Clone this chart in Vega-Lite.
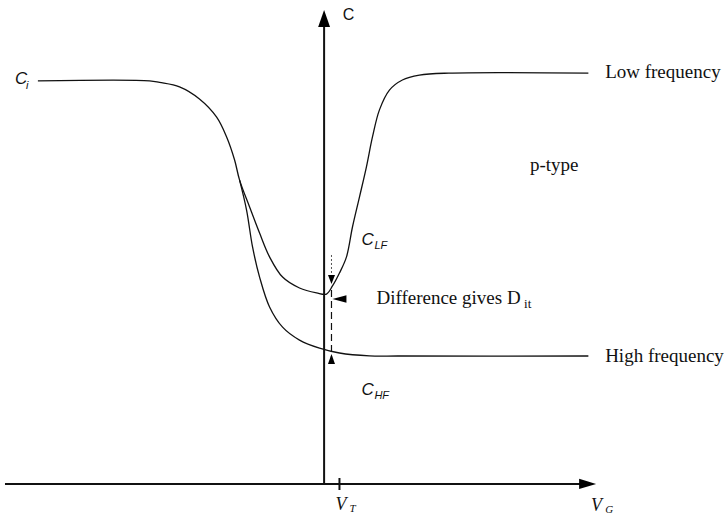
{
  "$schema": "https://vega.github.io/schema/vega-lite/v6.json",
  "width": 724,
  "height": 517,
  "autosize": {"type": "fit", "contains": "padding"},
  "padding": 0,
  "background": "white",
  "config": {"view": {"stroke": null}},
  "datasets": {
    "curves": [
      {"curve": "LF", "ord": 1, "V": -5.74, "C": 1.0},
      {"curve": "LF", "ord": 2, "V": -3.5, "C": 1.0},
      {"curve": "LF", "ord": 3, "V": -3.3, "C": 0.996},
      {"curve": "LF", "ord": 4, "V": -2.9, "C": 0.985},
      {"curve": "LF", "ord": 5, "V": -2.5, "C": 0.955},
      {"curve": "LF", "ord": 6, "V": -2.155, "C": 0.91},
      {"curve": "LF", "ord": 7, "V": -1.955, "C": 0.861},
      {"curve": "LF", "ord": 8, "V": -1.795, "C": 0.804},
      {"curve": "LF", "ord": 9, "V": -1.695, "C": 0.754},
      {"curve": "LF", "ord": 10, "V": -1.494, "C": 0.6875},
      {"curve": "LF", "ord": 11, "V": -1.294, "C": 0.623},
      {"curve": "LF", "ord": 12, "V": -1.094, "C": 0.564},
      {"curve": "LF", "ord": 13, "V": -0.833, "C": 0.514},
      {"curve": "LF", "ord": 14, "V": -0.493, "C": 0.487},
      {"curve": "LF", "ord": 15, "V": -0.152, "C": 0.475},
      {"curve": "LF", "ord": 16, "V": 0.048, "C": 0.472},
      {"curve": "LF", "ord": 17, "V": 0.168, "C": 0.492},
      {"curve": "LF", "ord": 18, "V": 0.308, "C": 0.524},
      {"curve": "LF", "ord": 19, "V": 0.449, "C": 0.564},
      {"curve": "LF", "ord": 20, "V": 0.569, "C": 0.638},
      {"curve": "LF", "ord": 21, "V": 0.709, "C": 0.712},
      {"curve": "LF", "ord": 22, "V": 0.849, "C": 0.787},
      {"curve": "LF", "ord": 23, "V": 0.97, "C": 0.861},
      {"curve": "LF", "ord": 24, "V": 1.11, "C": 0.928},
      {"curve": "LF", "ord": 25, "V": 1.31, "C": 0.977},
      {"curve": "LF", "ord": 26, "V": 1.57, "C": 1.002},
      {"curve": "LF", "ord": 27, "V": 1.911, "C": 1.014},
      {"curve": "LF", "ord": 28, "V": 2.5, "C": 1.019},
      {"curve": "LF", "ord": 29, "V": 5.3, "C": 1.019},
      {"curve": "HF", "ord": 1, "V": -1.695, "C": 0.754},
      {"curve": "HF", "ord": 2, "V": -1.555, "C": 0.68},
      {"curve": "HF", "ord": 3, "V": -1.435, "C": 0.5885},
      {"curve": "HF", "ord": 4, "V": -1.294, "C": 0.514},
      {"curve": "HF", "ord": 5, "V": -1.094, "C": 0.44},
      {"curve": "HF", "ord": 6, "V": -0.833, "C": 0.39},
      {"curve": "HF", "ord": 7, "V": -0.493, "C": 0.358},
      {"curve": "HF", "ord": 8, "V": -0.092, "C": 0.338},
      {"curve": "HF", "ord": 9, "V": 0.308, "C": 0.326},
      {"curve": "HF", "ord": 10, "V": 0.909, "C": 0.319},
      {"curve": "HF", "ord": 11, "V": 1.51, "C": 0.3186},
      {"curve": "HF", "ord": 12, "V": 5.3, "C": 0.3186}
    ],
    "axes": [
      {"name": "C axis", "V": 0, "C": 0.002, "V2": 0, "C2": 1.14},
      {"name": "VG axis", "V": -6.4, "C": 0.002, "V2": 5.2, "C2": 0.002},
      {"name": "VT tick", "V": 0.308, "C": 0.0166, "V2": 0.308, "C2": -0.0132}
    ],
    "dotted": [{"V": 0.148, "C": 0.5687, "V2": 0.148, "C2": 0.5018}],
    "dashed": [{"V": 0.148, "C": 0.482, "V2": 0.148, "C2": 0.3037}],
    "arrowUpAxis": [{"V": 0, "C": 1.154}],
    "arrowRightAxis": [{"V": 5.285, "C": 0.002}],
    "arrowDown": [{"V": 0.148, "C": 0.508}],
    "arrowUp": [{"V": 0.148, "C": 0.311}],
    "arrowLeft": [{"V": 0.308, "C": 0.4597}],
    "serifLeft": [
      {"label": "Low frequency", "V": 5.636, "C": 1.0217},
      {"label": "High frequency", "V": 5.636, "C": 0.3186},
      {"label": "Difference gives D", "V": 1.049, "C": 0.462}
    ],
    "serifCenter": [{"label": "p-type", "V": 4.614, "C": 0.7915}],
    "serifSub": [{"label": "it", "V": 4.01, "C": 0.4478}],
    "sansItalic": [
      {"label": "C", "V": -6.2, "C": 1.0044},
      {"label": "C", "V": 0.749, "C": 0.6058},
      {"label": "C", "V": 0.749, "C": 0.2344}
    ],
    "sansItalicSub": [
      {"label": "i", "V": -5.98, "C": 0.987},
      {"label": "LF", "V": 1.009, "C": 0.591},
      {"label": "HF", "V": 1.009, "C": 0.2196}
    ],
    "axisTitle": [{"label": "C", "V": 0.489, "C": 1.163}],
    "serifItalic": [
      {"label": "V", "V": 0.228, "C": -0.0503},
      {"label": "V", "V": 5.355, "C": -0.0528}
    ],
    "serifItalicSub": [
      {"label": "T", "V": 0.509, "C": -0.0602},
      {"label": "G", "V": 5.636, "C": -0.0627}
    ]
  },
  "encoding": {
    "x": {"field": "V", "type": "quantitative", "scale": {"domain": [-6.5, 8], "nice": false, "zero": false}, "axis": null},
    "y": {"field": "C", "type": "quantitative", "scale": {"domain": [-0.08, 1.2], "nice": false, "zero": false}, "axis": null}
  },
  "layer": [
    {
      "data": {"name": "curves"},
      "mark": {"type": "line", "interpolate": "catmull-rom", "color": "#111", "strokeWidth": 1.3},
      "encoding": {"detail": {"field": "curve"}, "order": {"field": "ord", "type": "quantitative"}}
    },
    {
      "data": {"name": "axes"},
      "mark": {"type": "rule", "color": "#111", "strokeWidth": 2},
      "encoding": {"x2": {"field": "V2"}, "y2": {"field": "C2"}}
    },
    {
      "data": {"name": "dotted"},
      "mark": {"type": "rule", "color": "#555", "strokeWidth": 1, "strokeDash": [2, 2]},
      "encoding": {"x2": {"field": "V2"}, "y2": {"field": "C2"}}
    },
    {
      "data": {"name": "dashed"},
      "mark": {"type": "rule", "color": "#111", "strokeWidth": 1.2, "strokeDash": [7, 4]},
      "encoding": {"x2": {"field": "V2"}, "y2": {"field": "C2"}}
    },
    {
      "data": {"name": "arrowUpAxis"},
      "mark": {"type": "point", "shape": "M0,-1L-0.7,1L0.7,1Z", "size": 289, "filled": true, "color": "#000", "opacity": 1}
    },
    {
      "data": {"name": "arrowRightAxis"},
      "mark": {"type": "point", "shape": "M1,0L-1,-0.6L-1,0.6Z", "size": 289, "filled": true, "color": "#000", "opacity": 1}
    },
    {
      "data": {"name": "arrowDown"},
      "mark": {"type": "point", "shape": "M0,1L-0.78,-1L0.78,-1Z", "size": 81, "filled": true, "color": "#000", "opacity": 1}
    },
    {
      "data": {"name": "arrowUp"},
      "mark": {"type": "point", "shape": "M0,-1L-0.7,1L0.7,1Z", "size": 100, "filled": true, "color": "#000", "opacity": 1}
    },
    {
      "data": {"name": "arrowLeft"},
      "mark": {"type": "point", "shape": "M-1,0L1,-0.55L1,0.55Z", "size": 196, "filled": true, "color": "#000", "opacity": 1}
    },
    {
      "data": {"name": "serifLeft"},
      "mark": {"type": "text", "align": "left", "baseline": "middle", "font": "Liberation Serif", "fontSize": 19, "color": "#111"},
      "encoding": {"text": {"field": "label"}}
    },
    {
      "data": {"name": "serifCenter"},
      "mark": {"type": "text", "align": "center", "baseline": "middle", "font": "Liberation Serif", "fontSize": 19, "color": "#111"},
      "encoding": {"text": {"field": "label"}}
    },
    {
      "data": {"name": "serifSub"},
      "mark": {"type": "text", "align": "left", "baseline": "middle", "font": "Liberation Serif", "fontSize": 13, "color": "#111"},
      "encoding": {"text": {"field": "label"}}
    },
    {
      "data": {"name": "sansItalic"},
      "mark": {"type": "text", "align": "left", "baseline": "middle", "font": "Liberation Sans", "fontStyle": "italic", "fontSize": 17, "color": "#111"},
      "encoding": {"text": {"field": "label"}}
    },
    {
      "data": {"name": "sansItalicSub"},
      "mark": {"type": "text", "align": "left", "baseline": "middle", "font": "Liberation Sans", "fontStyle": "italic", "fontSize": 11, "color": "#111"},
      "encoding": {"text": {"field": "label"}}
    },
    {
      "data": {"name": "axisTitle"},
      "mark": {"type": "text", "align": "center", "baseline": "middle", "font": "Liberation Sans", "fontSize": 16, "color": "#111"},
      "encoding": {"text": {"field": "label"}}
    },
    {
      "data": {"name": "serifItalic"},
      "mark": {"type": "text", "align": "left", "baseline": "middle", "font": "Liberation Serif", "fontStyle": "italic", "fontSize": 18, "color": "#111"},
      "encoding": {"text": {"field": "label"}}
    },
    {
      "data": {"name": "serifItalicSub"},
      "mark": {"type": "text", "align": "left", "baseline": "middle", "font": "Liberation Serif", "fontStyle": "italic", "fontSize": 11, "color": "#111"},
      "encoding": {"text": {"field": "label"}}
    }
  ]
}
